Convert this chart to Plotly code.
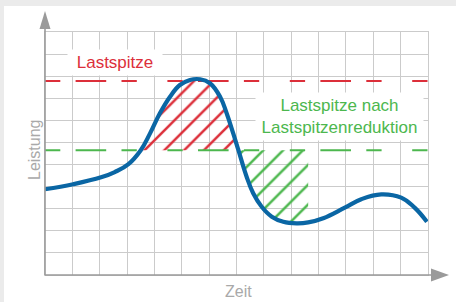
import plotly.graph_objects as go

# ---- data ----
curve_x = [0, 1.03, 2.05, 2.55, 3.05, 3.50, 3.84, 4.20, 4.57, 4.93, 5.30, 5.67, 6.03, 6.40,
           6.64, 6.88, 7.07, 7.37, 7.61, 7.92, 8.29, 8.71, 9.20, 9.62, 10.17, 10.96,
           11.56, 12.29, 13.02, 13.51, 13.96]
curve_y = [3.88, 4.11, 4.42, 4.66, 5.02, 5.65, 6.41, 7.32, 8.07, 8.60, 8.83, 8.86, 8.68, 8.07,
           7.32, 6.41, 5.65, 4.45, 3.70, 3.09, 2.64, 2.41, 2.34, 2.38, 2.57, 3.05,
           3.43, 3.65, 3.50, 3.05, 2.41]
peak_level = 8.78        # "Lastspitze"
reduced_level = 5.65     # "Lastspitze nach Lastspitzenreduktion"
x_range = [0, 14]
y_range = [0, 11]
peak_idx = [5, 16]       # curve part above reduced level (shaved peak)
shift_idx = [16, 23]     # valley part filled by shifted load

label_peak = "Lastspitze"
label_reduced = "Lastspitze nach<br>Lastspitzenreduktion"
x_title = "Zeit"
y_title = "Leistung"

# ---- styles ----
BLUE = "#0a66a4"
RED = "#dc2f3a"
GREEN = "#4cb74e"
GRID = "#cbcbcb"
AXIS = "#9a9a9a"
TXT = "#a9a9a9"
BAND = "#ebebeb"
DASH = "15.3px,15.3px,30.6px,15.3px,15.3px,30.6px"
FONT = "Liberation Sans"

W, H = 456, 302
ML, MR, MT, MB = 45, 28, 32, 27
PW, PH = W - ML - MR, H - MT - MB


def px(xp):
    return (xp - ML) / PW


def py(yp):
    return (H - MB - yp) / PH


fig = go.Figure()


def hatch(i0, i1, color):
    xs = curve_x[i0:i1 + 1]
    ys = curve_y[i0:i1 + 1]
    fig.add_trace(go.Scatter(x=[xs[0], xs[-1]], y=[reduced_level, reduced_level],
                             mode="lines", line=dict(width=0), hoverinfo="skip",
                             showlegend=False))
    fig.add_trace(go.Scatter(x=xs, y=ys, mode="lines",
                             line=dict(width=0, shape="spline", smoothing=1.2),
                             fill="tonexty", fillcolor="rgba(0,0,0,0)",
                             fillpattern=dict(shape="/", fgcolor=color, bgcolor="rgba(0,0,0,0)",
                                              size=14, solidity=0.18, fillmode="replace"),
                             hoverinfo="skip", showlegend=False))


hatch(peak_idx[0], peak_idx[1], RED)
hatch(shift_idx[0], shift_idx[1], GREEN)

for lvl, col in [(peak_level, RED), (reduced_level, GREEN)]:
    fig.add_trace(go.Scatter(x=x_range, y=[lvl, lvl], mode="lines",
                             line=dict(color=col, width=2, dash=DASH),
                             hoverinfo="skip", showlegend=False))

fig.add_trace(go.Scatter(x=curve_x, y=curve_y, mode="lines",
                         line=dict(color=BLUE, width=4.2, shape="spline", smoothing=1.2),
                         hoverinfo="skip", showlegend=False))

shapes = [
    # outer gray bands
    dict(type="rect", xref="paper", yref="paper", x0=px(0), x1=px(W), y0=py(0), y1=py(6),
         fillcolor=BAND, line=dict(width=0), layer="above"),
    dict(type="rect", xref="paper", yref="paper", x0=px(0), x1=px(4), y0=py(H), y1=py(0),
         fillcolor=BAND, line=dict(width=0), layer="above"),
    # axis lines
    dict(type="line", xref="paper", yref="paper", x0=0, x1=0, y0=0, y1=py(28),
         line=dict(color=AXIS, width=1.6), layer="above"),
    dict(type="line", xref="paper", yref="paper", x0=0, x1=px(432), y0=0, y1=0,
         line=dict(color=AXIS, width=1.6), layer="above"),
    # arrow heads
    dict(type="path", xref="paper", yref="paper",
         path=f"M {px(ML-5.5)} {py(29)} L {px(ML)} {py(11)} L {px(ML+5.5)} {py(29)} Z",
         fillcolor=AXIS, line=dict(width=0), layer="above"),
    dict(type="path", xref="paper", yref="paper",
         path=f"M {px(431)} {py(268.5)} L {px(449)} {py(275)} L {px(431)} {py(281.5)} Z",
         fillcolor=AXIS, line=dict(width=0), layer="above"),
]

annotations = [
    dict(x=2.56, y=9.61, xref="x", yref="y", text=label_peak, showarrow=False,
         font=dict(family=FONT, size=17, color=RED), bgcolor="white",
         width=94, height=25, borderpad=0, xanchor="center", yanchor="middle"),
    dict(x=10.76, y=7.17, xref="x", yref="y", text=label_reduced, showarrow=False,
         font=dict(family=FONT, size=17, color=GREEN), bgcolor="white",
         width=167, height=47, borderpad=0, xanchor="center", yanchor="middle"),
    dict(x=px(34), y=py(150), xref="paper", yref="paper", text=y_title, showarrow=False,
         textangle=-90, font=dict(family=FONT, size=16, color=TXT),
         xanchor="center", yanchor="middle"),
    dict(x=px(238), y=py(291), xref="paper", yref="paper", text=x_title, showarrow=False,
         font=dict(family=FONT, size=16, color=TXT), xanchor="center", yanchor="middle"),
]

fig.update_layout(
    width=W, height=H,
    margin=dict(l=ML, r=MR, t=MT, b=MB, pad=0),
    paper_bgcolor="white", plot_bgcolor="white",
    showlegend=False,
    shapes=shapes,
    annotations=annotations,
    xaxis=dict(range=x_range, dtick=1, tick0=0, showgrid=True, gridcolor=GRID, gridwidth=1,
               showticklabels=False, ticks="", zeroline=False, showline=True,
               linecolor=GRID, linewidth=1, mirror=True, fixedrange=True),
    yaxis=dict(range=y_range, dtick=1, tick0=0, showgrid=True, gridcolor=GRID, gridwidth=1,
               showticklabels=False, ticks="", zeroline=False, showline=True,
               linecolor=GRID, linewidth=1, mirror=True, fixedrange=True),
)

fig.write_html("out.html", config=dict(displayModeBar=False, staticPlot=True),
               post_script="document.body.style.margin='0px';document.body.style.overflow='hidden';")
